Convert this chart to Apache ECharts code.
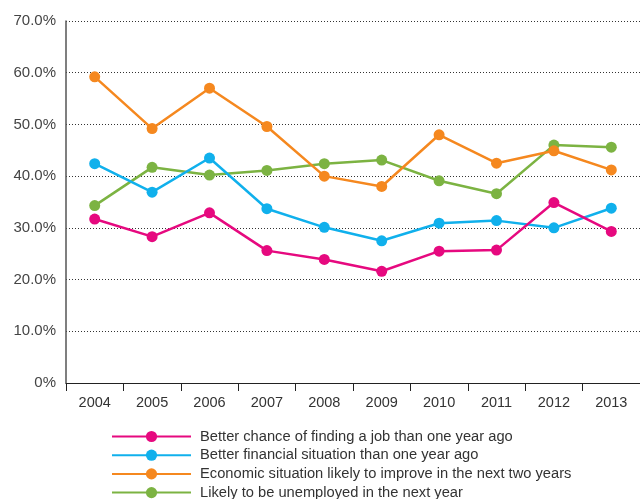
<!DOCTYPE html>
<html>
<head>
<meta charset="utf-8">
<script src="https://cdn.jsdelivr.net/npm/echarts@6/dist/echarts.min.js"></script>
<style>
  html, body { margin: 0; padding: 0; background: #fff; }
  #main { width: 640px; height: 499px; }
</style>
</head>
<body>
<div id="main"></div>
<script>
var years = ['2004', '2005', '2006', '2007', '2008', '2009', '2010', '2011', '2012', '2013'];

var jobChance = [31.7, 28.3, 32.9, 25.6, 23.9, 21.6, 25.5, 25.7, 34.9, 29.3];
var financial = [42.4, 36.9, 43.5, 33.7, 30.1, 27.5, 30.9, 31.4, 30.0, 33.8];
var economy = [59.2, 49.2, 57.0, 49.6, 40.0, 38.0, 48.0, 42.5, 44.9, 41.2];
var unemployed = [34.3, 41.7, 40.2, 41.1, 42.4, 43.1, 39.1, 36.6, 46.0, 45.6];

var names = [
  'Better chance of finding a job than one year ago',
  'Better financial situation than one year ago',
  'Economic situation likely to improve in the next two years',
  'Likely to be unemployed in the next year'
];

var font = 'Liberation Sans, Arial, sans-serif';

function makeSeries(name, data, color) {
  return {
    name: name,
    type: 'line',
    data: data,
    symbol: 'circle',
    symbolSize: 11,
    color: color,
    lineStyle: { width: 2.5, color: color },
    itemStyle: { color: color },
    emphasis: { disabled: true }
  };
}

var chart = echarts.init(document.getElementById('main'), null, { renderer: 'canvas' });

var option = {
  animation: false,
  backgroundColor: '#fff',
  grid: {
    left: 66,
    top: 21,
    width: 575,
    height: 362
  },
  legend: {
    orient: 'vertical',
    left: 111,
    top: 429,
    height: 100,
    padding: 0,
    itemWidth: 79,
    itemHeight: 14,
    itemGap: 3.7,
    data: names,
    textStyle: {
      fontFamily: font,
      fontSize: 14.7,
      color: '#333',
      padding: [0, 0, 0, 4]
    }
  },
  xAxis: {
    type: 'category',
    data: years,
    boundaryGap: true,
    axisLine: { lineStyle: { color: '#222', width: 1 } },
    axisTick: { show: true, length: 8, lineStyle: { color: '#222' } },
    axisLabel: {
      fontFamily: font,
      fontSize: 14.5,
      color: '#333',
      margin: 12
    }
  },
  yAxis: {
    type: 'value',
    min: 0,
    max: 70,
    interval: 10,
    axisLine: { show: true, lineStyle: { color: '#555', width: 1.5 } },
    axisTick: { show: false },
    axisLabel: {
      fontFamily: font,
      fontSize: 15,
      color: '#444',
      margin: 10,
      formatter: function (v) {
        return v === 0 ? '0%' : v.toFixed(1) + '%';
      }
    },
    splitLine: {
      lineStyle: { color: '#333', width: 1, type: [1, 2] }
    }
  },
  series: [
    makeSeries(names[3], unemployed, '#7cb342'),
    makeSeries(names[1], financial, '#10b0ec'),
    makeSeries(names[0], jobChance, '#e6097f'),
    makeSeries(names[2], economy, '#f5881f')
  ]
};

chart.setOption(option);
</script>
</body>
</html>
